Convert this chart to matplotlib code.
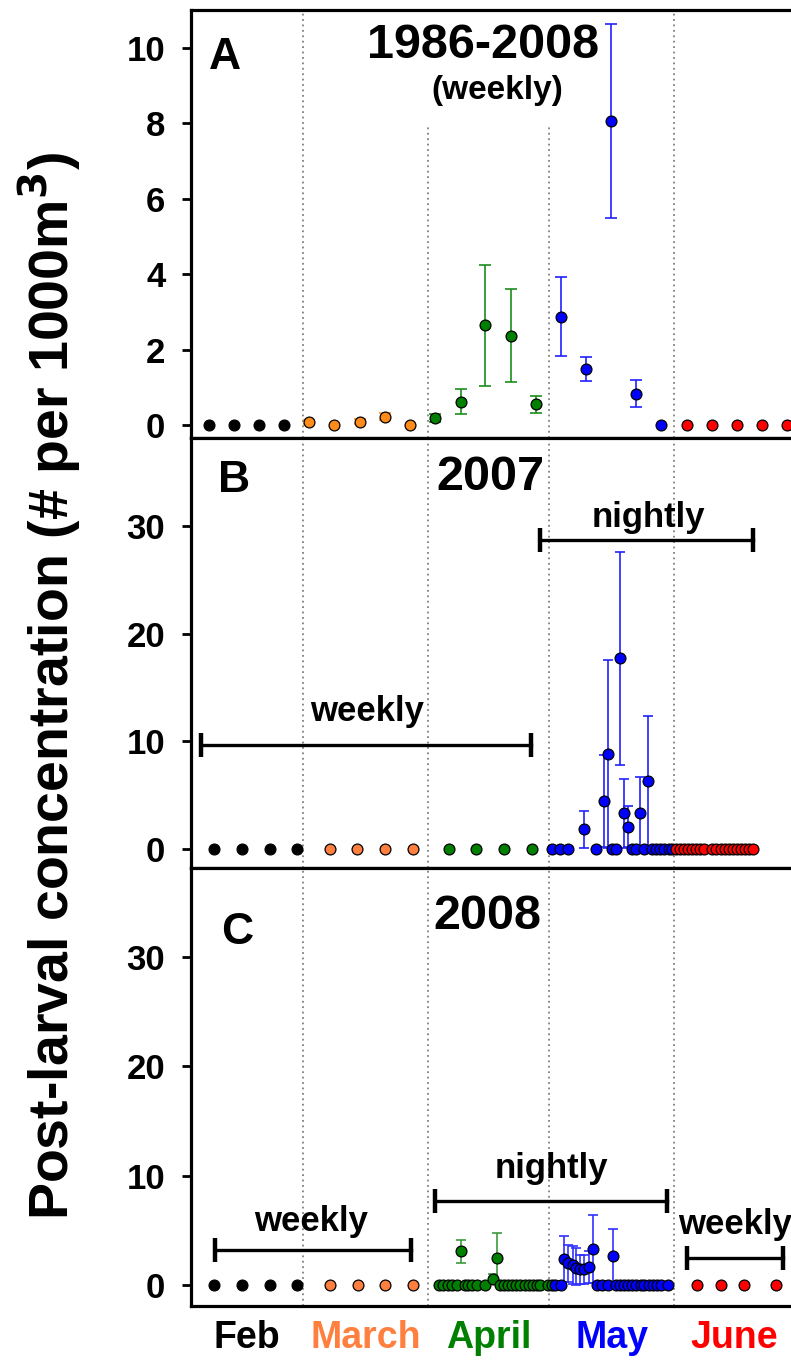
import matplotlib
matplotlib.use("Agg")
import matplotlib.pyplot as plt
import matplotlib.transforms as mtransforms
import numpy as np

plt.rcParams['font.family'] = ['Liberation Sans', 'DejaVu Sans']
plt.rcParams['font.weight'] = 'bold'

# ---------------- data (x = day since 1 Feb) ----------------
month_names = ["Feb", "March", "April", "May", "June"]
month_bounds = [28, 59, 89, 120]
month_centers = [14, 43.5, 74, 104.5, 135]

# Panel A: 1986-2008 weekly means
a_feb_days = [4.7, 10.9, 17.1, 23.3]
a_feb_vals = [0, 0, 0, 0]
a_mar_days = [29.5, 35.7, 42.2, 48.4, 54.6]
a_mar_vals = [0.08, 0.0, 0.09, 0.22, 0.0]
a_mar_err = [0.05, 0.0, 0.06, 0.1, 0.0]
a_apr_days = [60.8, 67.2, 73.1, 79.6, 85.8]
a_apr_vals = [0.19, 0.62, 2.64, 2.37, 0.55]
a_apr_err = [0.11, 0.33, 1.6, 1.23, 0.22]
a_may_days = [92.0, 98.2, 104.4, 110.6, 116.8]
a_may_vals = [2.87, 1.49, 8.06, 0.83, 0.0]
a_may_err = [1.04, 0.32, 2.58, 0.35, 0.0]
a_jun_days = [123.2, 129.4, 135.6, 141.8, 148.0]
a_jun_vals = [0, 0, 0, 0, 0]

# Panel B: 2007
b_feb_days = [5.9, 12.9, 19.8, 26.5]
b_mar_days = [34.7, 41.4, 48.3, 55.3]
b_apr_days = [64.2, 70.9, 77.9, 84.8]
b_may_days = [89.8, 91.7, 93.7, 97.7, 100.7, 102.7, 103.6, 104.6, 105.6, 106.5,
              107.5, 108.6, 109.6, 110.6, 111.5, 112.6, 113.5, 114.6, 115.6,
              116.6, 117.6, 118.6, 119.4]
b_may_vals = [0, 0, 0, 1.83, 0, 4.46, 8.85, 0, 0, 17.7,
              3.31, 2.07, 0, 0, 3.37, 0, 6.28, 0, 0,
              0, 0, 0, 0]
b_may_err = [0, 0, 0, 1.7, 0, 4.3, 8.75, 0, 0, 9.9,
             3.2, 1.9, 0, 0, 3.3, 0, 6.1, 0, 0,
             0, 0, 0, 0]
b_jun_days = [120.5, 121.5, 122.5, 123.5, 124.5, 125.5, 126.5, 127.5,
              129.5, 130.5, 131.5, 132.5, 133.5, 134.5, 135.5, 136.5, 137.5,
              138.5, 139.5]

# Panel C: 2008
c_feb_days = [5.9, 12.9, 19.8, 26.5]
c_mar_days = [34.7, 41.7, 48.4, 55.3]
c_apr_days = [61.6, 62.8, 64.0, 64.9, 66.1, 67.2, 68.2, 69.0, 69.8, 71.1, 73.1,
              75.1, 76.1, 76.9, 77.9, 78.9, 79.9, 80.9, 81.9, 82.9, 83.9, 84.9,
              85.9, 86.8, 88.8, 89.6]
c_apr_vals = [0, 0, 0, 0, 0, 3.1, 0, 0, 0, 0, 0,
              0.55, 2.47, 0, 0, 0, 0, 0, 0, 0, 0, 0,
              0, 0, 0, 0]
c_apr_err = [0, 0, 0, 0, 0, 1.05, 0, 0, 0, 0, 0,
             0.43, 2.26, 0, 0, 0, 0, 0, 0, 0, 0, 0,
             0, 0, 0, 0]
c_may_days = [90.5, 92.0, 92.7, 93.8, 94.8, 95.7, 96.7, 97.7, 98.9, 99.9,
              100.8, 102.0, 103.6, 104.8, 105.7, 106.5, 107.5, 108.6, 109.6,
              110.6, 111.7, 112.6, 113.7, 114.7, 115.7, 116.7, 118.4]
c_may_vals = [0, 0, 2.35, 1.98, 1.83, 1.53, 1.43, 1.43, 1.68, 3.29,
              0, 0, 0, 2.65, 0, 0, 0, 0, 0,
              0, 0, 0, 0, 0, 0, 0, 0]
c_may_err = [0, 0, 2.1, 1.7, 1.74, 1.9, 1.35, 1.3, 1.46, 3.1,
             0, 0, 0, 2.47, 0, 0, 0, 0, 0,
             0, 0, 0, 0, 0, 0, 0, 0]
c_jun_days = [125.6, 131.6, 137.4, 145.3]

# ---------------- styling ----------------
BLACK = "#000000"
ORANGE_A = "#ff8c1a"
ORANGE = "#ff7f3f"
GREEN = "#008000"
BLUE = "#0000ff"
RED = "#ff0000"
MS = 7.8

fig = plt.figure(figsize=(7.91, 13.6), dpi=100)
W, H = 791.0, 1360.0
XL = (0.2, 151.0)
ax_left = 191 / W
ax_width = (XL[1] - XL[0]) * 4.033 / W

def make_ax(top_px, bot_px, ylim, yticks):
    ax = fig.add_axes([ax_left, 1 - bot_px / H, ax_width, (bot_px - top_px) / H])
    ax.set_xlim(*XL)
    ax.set_ylim(*ylim)
    ax.set_yticks(yticks)
    ax.set_xticks([])
    ax.tick_params(axis='y', labelsize=25, length=6.5, width=2, pad=12)
    for lab in ax.get_yticklabels():
        lab.set_fontweight('bold')
    ax.spines['right'].set_visible(False)
    for s in ['left', 'top', 'bottom']:
        ax.spines[s].set_linewidth(2.3)
    return ax

def pts(ax, days, vals, color, err=None, ecolor=None, edge=True, cap=3.5, ms=MS):
    days = np.asarray(days, float)
    vals = np.asarray(vals, float) if vals is not None else np.zeros_like(days)
    if err is not None:
        err = np.asarray(err, float)
        m = err > 0
        if m.any():
            lo = np.minimum(err[m], vals[m])
            ax.errorbar(days[m], vals[m], yerr=[lo, err[m]], fmt='none',
                        ecolor=ecolor or color, elinewidth=1.4, capsize=cap,
                        capthick=1.4, zorder=2, alpha=0.85)
    ax.plot(days, vals, 'o', ms=ms, mfc=color,
            mec='black' if edge else color, mew=0.9, ls='none', zorder=3,
            clip_on=False)

def vlines(ax, ymax_list=None):
    for i, b in enumerate(month_bounds):
        top = ax.get_ylim()[1] if ymax_list is None else ymax_list[i]
        ax.plot([b, b], [ax.get_ylim()[0], top], ls=(0, (1, 2)), color='#808080',
                lw=1.3, zorder=1)

def bracket(ax, x0, x1, y):
    ax.plot([x0, x1], [y, y], color='black', lw=2.4, marker='|', ms=17, mew=3.2,
            zorder=4, clip_on=False)

# Panel A
axA = make_ax(10, 438, (-0.345, 11.0), [0, 2, 4, 6, 8, 10])
vlines(axA, [11.0, 7.96, 7.96, 11.0])
pts(axA, a_feb_days, a_feb_vals, BLACK, edge=False)
pts(axA, a_mar_days, a_mar_vals, ORANGE_A, a_mar_err, ecolor="#ff9a30", cap=4)
pts(axA, a_apr_days, a_apr_vals, GREEN, a_apr_err, ecolor="#1c8c1c", cap=4)
pts(axA, a_may_days, a_may_vals, BLUE, a_may_err, ecolor="#2020ff", cap=4)
pts(axA, a_jun_days, a_jun_vals, RED)
axA.text(0.056, 0.888, "A", transform=axA.transAxes, fontsize=32, fontweight='bold',
         ha='center', va='center')
axA.text(0.48, 0.918, "1986-2008", transform=axA.transAxes, fontsize=35,
         fontweight='bold', ha='center', va='center')
axA.text(0.503, 0.811, "(weekly)", transform=axA.transAxes, fontsize=24,
         fontweight='bold', ha='center', va='center')

# Panel B
axB = make_ax(438, 868, (-1.76, 38.17), [0, 10, 20, 30])
vlines(axB)
pts(axB, b_feb_days, None, BLACK, edge=False)
pts(axB, b_mar_days, None, ORANGE)
pts(axB, b_apr_days, None, GREEN)
pts(axB, b_may_days, b_may_vals, BLUE, b_may_err, ecolor="#2020ff")
pts(axB, b_jun_days, None, RED)
bracket(axB, 86.8, 139.6, 28.7)
bracket(axB, 2.7, 84.6, 9.66)
axB.text(0.071, 0.902, "B", transform=axB.transAxes, fontsize=32, fontweight='bold',
         ha='center', va='center')
axB.text(0.492, 0.909, "2007", transform=axB.transAxes, fontsize=35,
         fontweight='bold', ha='center', va='center')
axB.text(0.752, 0.816, "nightly", transform=axB.transAxes, fontsize=25,
         fontweight='bold', ha='center', va='center')
axB.text(0.289, 0.365, "weekly", transform=axB.transAxes, fontsize=25,
         fontweight='bold', ha='center', va='center')

# Panel C
axC = make_ax(868, 1306, (-1.92, 38.15), [0, 10, 20, 30])
vlines(axC)
pts(axC, c_feb_days, None, BLACK, edge=False)
pts(axC, c_mar_days, None, ORANGE)
pts(axC, c_apr_days, c_apr_vals, GREEN, c_apr_err, ecolor="#3a9a3a")
pts(axC, c_may_days, c_may_vals, BLUE, c_may_err, ecolor="#3030ff")
pts(axC, c_jun_days, None, RED)
bracket(axC, 6.2, 54.8, 3.2)
bracket(axC, 60.7, 118.3, 7.69)
bracket(axC, 123.2, 147.0, 2.47)
axC.text(0.076, 0.852, "C", transform=axC.transAxes, fontsize=32, fontweight='bold',
         ha='center', va='center')
axC.text(0.487, 0.89, "2008", transform=axC.transAxes, fontsize=35,
         fontweight='bold', ha='center', va='center')
axC.text(0.197, 0.194, "weekly", transform=axC.transAxes, fontsize=25,
         fontweight='bold', ha='center', va='center')
axC.text(0.592, 0.315, "nightly", transform=axC.transAxes, fontsize=25,
         fontweight='bold', ha='center', va='center')
axC.text(0.895, 0.185, "weekly", transform=axC.transAxes, fontsize=25,
         fontweight='bold', ha='center', va='center', clip_on=False)

# Month labels
trans = mtransforms.blended_transform_factory(axC.transData, fig.transFigure)
month_colors = [BLACK, ORANGE, GREEN, BLUE, RED]
for name, xc, col in zip(month_names, month_centers, month_colors):
    fig.text(xc, 1 - 1338 / H, name, transform=trans, color=col, fontsize=27,
             fontweight='bold', ha='center', va='center')

fig.text(50 / W, 1 - 686 / H, "Post-larval concentration (# per 1000m$^\\mathbf{3}$)",
         rotation=90, fontsize=40, fontweight='bold', ha='center', va='center')

fig.savefig("out.png", dpi=100)
